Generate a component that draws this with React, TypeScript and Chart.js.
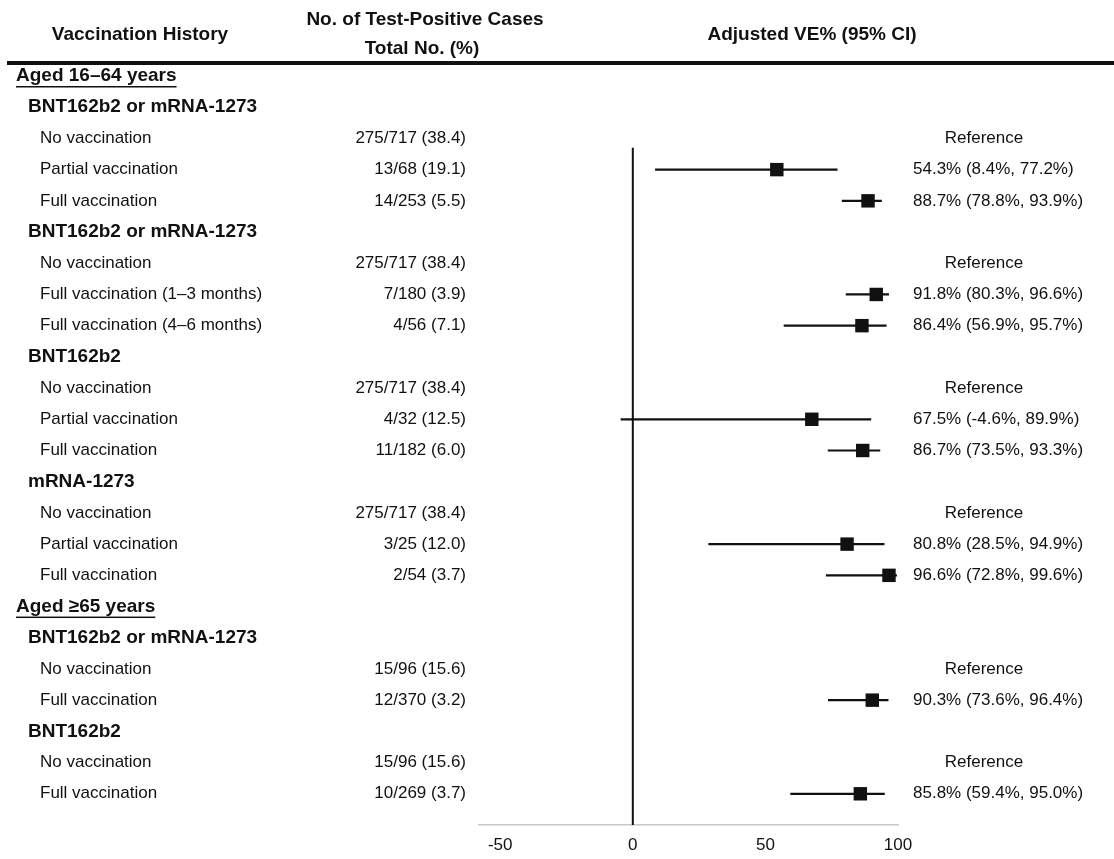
import React, { useEffect, useRef } from "react";
import { Chart, registerables } from "chart.js";

Chart.register(...registerables);

const rowLabels = [
  "Aged 16–64 years",
  "BNT162b2 or mRNA-1273",
  "No vaccination",
  "Partial vaccination",
  "Full vaccination",
  "BNT162b2 or mRNA-1273",
  "No vaccination",
  "Full vaccination (1–3 months)",
  "Full vaccination (4–6 months)",
  "BNT162b2",
  "No vaccination",
  "Partial vaccination",
  "Full vaccination",
  "mRNA-1273",
  "No vaccination",
  "Partial vaccination",
  "Full vaccination",
  "Aged ≥65 years",
  "BNT162b2 or mRNA-1273",
  "No vaccination",
  "Full vaccination",
  "BNT162b2",
  "No vaccination",
  "Full vaccination",
];

const rowKinds = [
  "age", "group", "item", "item", "item",
  "group", "item", "item", "item",
  "group", "item", "item", "item",
  "group", "item", "item", "item",
  "age", "group", "item", "item",
  "group", "item", "item",
];

const caseCounts = [
  "", "", "275/717 (38.4)", "13/68 (19.1)", "14/253 (5.5)",
  "", "275/717 (38.4)", "7/180 (3.9)", "4/56 (7.1)",
  "", "275/717 (38.4)", "4/32 (12.5)", "11/182 (6.0)",
  "", "275/717 (38.4)", "3/25 (12.0)", "2/54 (3.7)",
  "", "", "15/96 (15.6)", "12/370 (3.2)",
  "", "15/96 (15.6)", "10/269 (3.7)",
];

const veEstimate = [
  null, null, null, 54.3, 88.7,
  null, null, 91.8, 86.4,
  null, null, 67.5, 86.7,
  null, null, 80.8, 96.6,
  null, null, null, 90.3,
  null, null, 85.8,
];

const veLower = [
  null, null, null, 8.4, 78.8,
  null, null, 80.3, 56.9,
  null, null, -4.6, 73.5,
  null, null, 28.5, 72.8,
  null, null, null, 73.6,
  null, null, 59.4,
];

const veUpper = [
  null, null, null, 77.2, 93.9,
  null, null, 96.6, 95.7,
  null, null, 89.9, 93.3,
  null, null, 94.9, 99.6,
  null, null, null, 96.4,
  null, null, 95.0,
];

const veLabels = [
  "", "", "Reference", "54.3% (8.4%, 77.2%)", "88.7% (78.8%, 93.9%)",
  "", "Reference", "91.8% (80.3%, 96.6%)", "86.4% (56.9%, 95.7%)",
  "", "Reference", "67.5% (-4.6%, 89.9%)", "86.7% (73.5%, 93.3%)",
  "", "Reference", "80.8% (28.5%, 94.9%)", "96.6% (72.8%, 99.6%)",
  "", "", "Reference", "90.3% (73.6%, 96.4%)",
  "", "Reference", "85.8% (59.4%, 95.0%)",
];

const xTickValues = [-50, 0, 50, 100];
const xMin = -58;
const xMax = 100;
const zeroLineTopRow = 2.3;

const headerLabels = [
  "Vaccination History",
  "No. of Test-Positive Cases",
  "Total No. (%)",
  "Adjusted VE% (95% CI)",
];

const FONT = '"Liberation Sans", Arial, Helvetica, sans-serif';
const INK = "#111111";

const tablePlugin = {
  id: "tableText",
  afterDraw(chart: any) {
    const ctx = chart.ctx as CanvasRenderingContext2D;
    const yScale = chart.scales.y;
    ctx.save();
    ctx.fillStyle = INK;
    ctx.strokeStyle = INK;
    ctx.textBaseline = "middle";

    // header
    ctx.font = `bold 19px ${FONT}`;
    ctx.textAlign = "center";
    ctx.fillText(headerLabels[0], 140, 35);
    ctx.fillText(headerLabels[1], 425, 20);
    ctx.fillText(headerLabels[2], 422, 49);
    ctx.fillText(headerLabels[3], 812, 35);
    ctx.fillRect(7, 61, 1107, 4);

    rowLabels.forEach((label, i) => {
      const py = yScale.getPixelForValue(i);
      const kind = rowKinds[i];
      ctx.textAlign = "left";
      if (kind === "age") {
        ctx.font = `bold 19px ${FONT}`;
        ctx.fillText(label, 16, py);
        const w = ctx.measureText(label).width;
        ctx.fillRect(16, py + 10, w, 1.5);
      } else if (kind === "group") {
        ctx.font = `bold 19px ${FONT}`;
        ctx.fillText(label, 28, py);
      } else {
        ctx.font = `17px ${FONT}`;
        ctx.fillText(label, 40, py);
      }
      ctx.font = `17px ${FONT}`;
      if (caseCounts[i]) {
        ctx.textAlign = "right";
        ctx.fillText(caseCounts[i], 466, py);
      }
      const ve = veLabels[i];
      if (ve) {
        if (ve === "Reference") {
          ctx.textAlign = "center";
          ctx.fillText(ve, 984, py);
        } else {
          ctx.textAlign = "left";
          ctx.fillText(ve, 913, py);
        }
      }
    });
    ctx.restore();
  },
};

export default function App() {
  const canvasRef = useRef<HTMLCanvasElement | null>(null);

  useEffect(() => {
    document.body.style.margin = "0";
    document.body.style.background = "#ffffff";
    const canvas = canvasRef.current;
    if (!canvas) return;

    const pointData: { x: number; y: number }[] = [];
    const ciDatasets: any[] = [];
    veEstimate.forEach((v, i) => {
      if (v !== null) {
        pointData.push({ x: v, y: i });
        ciDatasets.push({
          type: "line",
          data: [
            { x: veLower[i] as number, y: i },
            { x: veUpper[i] as number, y: i },
          ],
          borderColor: INK,
          borderWidth: 2.2,
          pointRadius: 0,
          order: 2,
        });
      }
    });

    const chart = new Chart(canvas, {
      type: "scatter",
      data: {
        datasets: [
          {
            type: "scatter",
            data: pointData,
            pointStyle: "rect",
            pointRadius: 9.5,
            pointHoverRadius: 9.5,
            backgroundColor: INK,
            borderWidth: 0,
            order: 0,
          } as any,
          {
            type: "line",
            data: [
              { x: 0, y: zeroLineTopRow },
              { x: 0, y: rowLabels.length },
            ],
            borderColor: INK,
            borderWidth: 2,
            pointRadius: 0,
            order: 1,
          } as any,
          ...ciDatasets,
        ],
      },
      options: {
        responsive: false,
        animation: false,
        devicePixelRatio: 1,
        layout: { padding: { left: 479, right: 216, top: 76, bottom: 4 } },
        plugins: {
          legend: { display: false },
          tooltip: { enabled: false },
          title: { display: false },
        },
        scales: {
          x: {
            type: "linear",
            min: xMin,
            max: xMax,
            grid: { display: false, drawTicks: false },
            border: { display: true, color: "#c8c8c8", width: 1.5 },
            afterBuildTicks: (scale: any) => {
              scale.ticks = xTickValues.map((v) => ({ value: v }));
            },
            afterFit: (scale: any) => {
              scale.height = 30;
            },
            ticks: {
              padding: 10,
              color: INK,
              font: { family: FONT, size: 17 },
              maxRotation: 0,
              autoSkip: false,
            },
          },
          y: {
            type: "linear",
            display: false,
            reverse: true,
            min: 0,
            max: rowLabels.length,
          },
        },
      },
      plugins: [tablePlugin],
    } as any);

    return () => chart.destroy();
  }, []);

  return (
    <div style={{ width: 1114, height: 859, background: "#fff" }}>
      <canvas ref={canvasRef} width={1114} height={859} style={{ display: "block" }} />
    </div>
  );
}
